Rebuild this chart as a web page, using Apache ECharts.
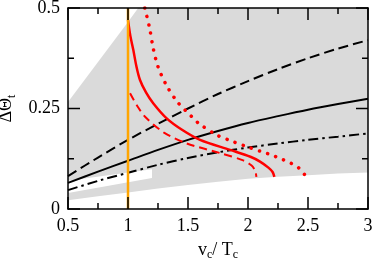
<!DOCTYPE html>
<html><head><meta charset="utf-8">
<script src="https://cdn.jsdelivr.net/npm/echarts@6/dist/echarts.min.js"></script>
<style>html,body{margin:0;padding:0;background:#fff}#c{width:374px;height:258px}</style>
</head><body><div id="c"></div>
<script>
// ---- data ----
const grayLower = [[0.5,0.022],[0.75,0.032],[1,0.041],[1.25,0.051],[1.5,0.060],[1.75,0.068],[2,0.075],[2.25,0.080],[2.5,0.084],[2.75,0.088],[3,0.091]];
const grayUpper = [[3,0.5],[1.085,0.5],[1.0,0.465],[0.5,0.266]];
const whiteTop = [[0.5,0.070],[1.2,0.099]];
const whiteBottom = [[1.2,0.077],[0.5,0.040]];
const blackDashed = [[0.5,0.082],[0.75,0.128],[1,0.172],[1.25,0.212],[1.5,0.250],[1.75,0.286],[2,0.318],[2.25,0.348],[2.5,0.375],[2.75,0.399],[3,0.42]];
const blackSolid = [[0.5,0.065],[0.75,0.093],[1,0.12],[1.25,0.147],[1.5,0.172],[1.75,0.194],[2,0.214],[2.25,0.231],[2.5,0.247],[2.75,0.261],[3,0.274]];
const blackDashDot = [[0.5,0.047],[0.75,0.07],[1,0.09],[1.25,0.11],[1.5,0.127],[1.75,0.141],[2,0.153],[2.25,0.163],[2.5,0.172],[2.75,0.180],[3,0.188]];
const redSolid = [[1.0,0.47],[1.02,0.43],[1.044,0.396],[1.07,0.355],[1.1,0.321],[1.15,0.29],[1.21,0.263],[1.32,0.226],[1.45,0.197],[1.6,0.172],[1.85,0.147],[2.02,0.13],[2.1,0.118],[2.17,0.103],[2.205,0.092],[2.22,0.08]];
const redDashed = [[1.017,0.288],[1.08,0.255],[1.14,0.23],[1.3,0.19],[1.49,0.163],[1.77,0.139],[1.96,0.121],[2.03,0.108],[2.06,0.095],[2.07,0.08]];
const redDotted = [[1.14,0.5],[1.18,0.45],[1.21,0.4],[1.25,0.354],[1.32,0.308],[1.41,0.267],[1.53,0.23],[1.59,0.213],[1.74,0.184],[1.88,0.167],[1.99,0.155],[2.11,0.143],[2.2,0.134],[2.28,0.124],[2.35,0.115],[2.42,0.103],[2.47,0.086]];
const orangeLine = [[1,0],[1,0.5]];
const xRange = [0.5, 3], xStep = 0.5;
const yRange = [0, 0.5], yStep = 0.25;
const xMajorTicks = [0.5, 1, 1.5, 2, 2.5, 3];
const xMinorTicks = [0.75, 1.25, 1.75, 2.25, 2.75];
const yMajorTicks = [0, 0.25, 0.5];
const yMinorTicks = [0.125, 0.375];

const FONT = 'Liberation Serif';
const chart = echarts.init(document.getElementById('c'));
function polySeries(points, fill, z){
  return {type:'custom', silent:true, clip:true, z:z, data:[[points[0][0],points[0][1]]],
    renderItem:(params, api)=>({type:'polygon', shape:{points:points.map(p=>api.coord(p))}, style:{fill:fill}})};
}
// inward ticks on all four sides, positioned through the axis scales (drawn as thin filled rects)
function tickSeries(values, isX, len){
  const w = 1.5;
  return {type:'custom', silent:true, clip:false, z:10,
    data: values.map(v => isX ? [v, yRange[0]] : [xRange[0], v]),
    renderItem:(params, api)=>{
      const st = {fill:'#000'};
      if (isX) {
        const v = api.value(0);
        const b = api.coord([v, yRange[0]]), t = api.coord([v, yRange[1]]);
        return {type:'group', children:[
          {type:'rect', shape:{x:b[0]-w/2, y:b[1]-len, width:w, height:len}, style:st},
          {type:'rect', shape:{x:t[0]-w/2, y:t[1], width:w, height:len}, style:st}]};
      } else {
        const v = api.value(1);
        const l = api.coord([xRange[0], v]), r = api.coord([xRange[1], v]);
        return {type:'group', children:[
          {type:'rect', shape:{x:l[0], y:l[1]-w/2, width:len, height:w}, style:st},
          {type:'rect', shape:{x:r[0]-len, y:r[1]-w/2, width:len, height:w}, style:st}]};
      }
    }};
}
function axisCommon(showLabel){
  return {
    z:20,
    axisLine:{show:true, onZero:false, lineStyle:{color:'#000', width:1.5}},
    axisTick:{show:false},
    minorTick:{show:false},
    splitLine:{show:false}, minorSplitLine:{show:false},
    axisLabel:{show:showLabel, color:'#000', fontFamily:FONT, fontSize:18}
  };
}
const line = (data, color, width, type, z, extra) => Object.assign({type:'line', data:data, showSymbol:false, symbol:'none', silent:true, z:z||3,
  smooth:0.3, lineStyle:{color:color, width:width, type:type}}, extra||{});

chart.setOption({
  animation:false,
  grid:{left:68, top:8, right:6, bottom:49, containLabel:false, outerBoundsMode:'none'},
  xAxis:[
    Object.assign(axisCommon(true), {type:'value', min:xRange[0], max:xRange[1], interval:xStep, position:'bottom',
      name:'{n|v}{s|c}{n|/ T}{s|c}', nameLocation:'middle', nameGap:30,
      nameTextStyle:{color:'#000', fontFamily:FONT, rich:{n:{fontSize:18, fontFamily:FONT, color:'#000'}, s:{fontSize:12, fontFamily:FONT, color:'#000', padding:[10,0,0,0]}}}}),
    Object.assign(axisCommon(false), {type:'value', min:xRange[0], max:xRange[1], interval:xStep, position:'top'})
  ],
  yAxis:[
    Object.assign(axisCommon(true), {type:'value', min:yRange[0], max:yRange[1], interval:yStep, position:'left',
      name:'{n|ΔΘ}{s|t}', nameLocation:'middle', nameGap:50,
      nameTextStyle:{color:'#000', fontFamily:FONT, rich:{n:{fontSize:18, fontFamily:FONT, color:'#000'}, s:{fontSize:12, fontFamily:FONT, color:'#000', padding:[10,0,0,0]}}}}),
    Object.assign(axisCommon(false), {type:'value', min:yRange[0], max:yRange[1], interval:yStep, position:'right'})
  ],
  series:[
    polySeries(grayLower.concat(grayUpper), '#dadada', 1),
    polySeries(whiteTop.concat(whiteBottom), '#ffffff', 1.5),
    line(blackDashed, '#000', 2, [10,5], 3),
    line(blackSolid, '#000', 2, 'solid', 3),
    line(blackDashDot, '#000', 2, [10,4,2.5,4], 3),
    line(redSolid, '#ff0000', 2.5, 'solid', 4),
    line(redDashed, '#ff0000', 2, [8,5], 4),
    line(redDotted, '#ff0000', 3.5, [0.1,8.5], 4, {lineStyle:{color:'#ff0000', width:3.5, type:[0.1,8.5], cap:'round'}}),
    line(orangeLine, '#ffa500', 2.5, 'solid', 5, {smooth:false}),
    tickSeries(xMajorTicks, true, 12),
    tickSeries(xMinorTicks, true, 6),
    tickSeries(yMajorTicks, false, 12),
    tickSeries(yMinorTicks, false, 6)
  ]
});
</script></body></html>
